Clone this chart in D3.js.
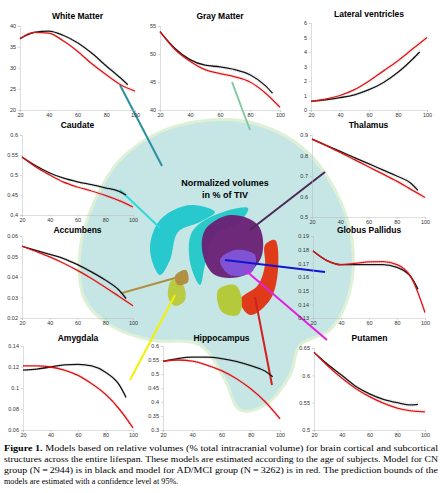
<!DOCTYPE html>
<html><head><meta charset="utf-8">
<script src="https://cdn.jsdelivr.net/npm/d3@7.9.0/dist/d3.min.js"></script>
<style>body{margin:0;background:#fff}svg{display:block}</style>
</head><body>
<svg id="fig" width="446" height="493"></svg>
<script>
// ages sampled for the model curves
const agesRed = [20, 30, 40, 50, 60, 70, 80, 90, 100];
const agesBlack = [20, 30, 40, 50, 60, 70, 80, 90, 95];
const xTicks = [20, 40, 60, 80, 100];

const titles = ['White Matter', 'Gray Matter', 'Lateral ventricles', 'Caudate', 'Thalamus',
  'Accumbens', 'Globus Pallidus', 'Amygdala', 'Hippocampus', 'Putamen'];
const yTicks = [
  [20, 25, 30, 35, 40], [40, 45, 50, 55], [0, 1, 2, 3, 4, 5, 6],
  [0.4, 0.45, 0.5, 0.55, 0.6], [0.5, 0.6, 0.7, 0.8, 0.9],
  [0.02, 0.03, 0.04, 0.05, 0.06], [0.13, 0.14, 0.15, 0.16, 0.17, 0.18, 0.19],
  [0.06, 0.08, 0.1, 0.12, 0.14], [0.3, 0.35, 0.4, 0.45, 0.5, 0.55, 0.6], [0.5, 0.55, 0.6, 0.65]
];
const cnValues = [
  [37, 38.5, 38.8, 37.8, 36, 33.5, 30.5, 27.6, 26],
  [54, 51, 49, 48, 47.7, 47.2, 46.3, 44.4, 43],
  [0.6, 0.7, 0.85, 1.05, 1.4, 1.9, 2.6, 3.5, 4],
  [0.545, 0.523, 0.505, 0.492, 0.483, 0.476, 0.468, 0.459, 0.45],
  [0.88, 0.85, 0.82, 0.79, 0.76, 0.73, 0.70, 0.665, 0.63],
  [0.055, 0.053, 0.051, 0.049, 0.046, 0.0425, 0.0385, 0.0335, 0.0295],
  [0.179, 0.172, 0.169, 0.169, 0.169, 0.169, 0.167, 0.16, 0.151],
  [0.117, 0.118, 0.12, 0.122, 0.1225, 0.121, 0.115, 0.103, 0.091],
  [0.545, 0.555, 0.56, 0.56, 0.555, 0.545, 0.53, 0.51, 0.49],
  [0.642, 0.62, 0.6, 0.58, 0.566, 0.556, 0.55, 0.546, 0.547]
];
const adValues = [
  [37, 38.5, 38.3, 36.5, 34, 31, 28.4, 26, 24.5],
  [54, 50.8, 48.7, 47.2, 46.5, 45.9, 45, 43.1, 40.5],
  [0.6, 0.75, 1.0, 1.4, 2.0, 2.7, 3.4, 4.2, 5],
  [0.545, 0.52, 0.5, 0.482, 0.47, 0.46, 0.449, 0.436, 0.42],
  [0.88, 0.848, 0.815, 0.78, 0.745, 0.71, 0.675, 0.635, 0.595],
  [0.055, 0.0525, 0.0498, 0.0467, 0.0432, 0.0393, 0.035, 0.0305, 0.026],
  [0.179, 0.172, 0.169, 0.170, 0.171, 0.1713, 0.169, 0.16, 0.134],
  [0.121, 0.121, 0.12, 0.117, 0.112, 0.104, 0.094, 0.08, 0.062],
  [0.545, 0.55, 0.546, 0.532, 0.512, 0.484, 0.447, 0.4, 0.34],
  [0.642, 0.617, 0.595, 0.576, 0.561, 0.549, 0.54, 0.535, 0.533]
];

// panel boxes [x0, x1, yTop, yBottom, titleBaseline]
const boxes = [
  [20, 135, 26, 110, 22], [160, 280, 26, 110, 22], [311, 427, 23, 110, 20],
  [22, 133, 135, 215, 131], [312, 425, 135, 217, 131],
  [22, 133, 236, 318, 236], [313, 425, 236, 318, 236],
  [23, 133, 346, 430, 344], [163, 280, 346, 430, 344], [314, 425, 348, 430, 344]
];

const svg = d3.select('#fig');
const font = 'Arial, Liberation Sans, sans-serif';

// ---- brain backdrop ----
const brain = svg.append('g');
const blob = [[85,300],[80,250],[95,200],[120,160],[160,132],[210,120],[260,125],[305,150],[335,190],[352,240],[350,290],[330,330],[300,345],[290,375],[265,405],[240,410],[225,380],[200,345],[150,340],[110,325]];
brain.append('path').attr('d', d3.line().curve(d3.curveCatmullRomClosed)(blob))
  .attr('fill', '#b4dede').attr('stroke', '#d4ecc8').attr('stroke-width', 3).attr('opacity', 0.75);
const shapes = [
  {pts: [[150,250],[160,220],[190,205],[215,212],[200,222],[178,232],[170,260],[160,275]], c: '#1fc6cc'},
  {pts: [[190,262],[192,232],[215,215],[248,208],[240,222],[215,235],[205,265],[200,285]], c: '#22c8c8'},
  {pts: [[205,230],[230,215],[258,225],[262,255],[245,275],[215,275],[203,255]], c: '#6a1f74'},
  {pts: [[220,260],[235,250],[255,255],[252,272],[230,275]], c: '#8055d8'},
  {pts: [[265,245],[275,240],[278,270],[270,300],[250,315],[240,300],[258,285],[265,265]], c: '#e0300f'},
  {pts: [[218,290],[235,285],[242,300],[238,315],[222,312]], c: '#b4c830'},
  {pts: [[172,280],[183,285],[185,300],[175,306],[168,296]], c: '#b8c83a'},
  {pts: [[175,276],[186,270],[188,282],[178,285]], c: '#b08a3a'}
];
shapes.forEach(s => brain.append('path').attr('d', d3.line().curve(d3.curveCatmullRomClosed)(s.pts))
  .attr('fill', s.c).attr('opacity', 0.95));

brain.append('text').attr('x', 225).attr('y', 186).attr('text-anchor', 'middle')
  .attr('font-family', font).attr('font-weight', 'bold').attr('font-size', 9).text('Normalized volumes');
brain.append('text').attr('x', 225).attr('y', 198).attr('text-anchor', 'middle')
  .attr('font-family', font).attr('font-weight', 'bold').attr('font-size', 9).text('in % of TIV');

// connector lines
const links = [
  [[120,85],[162,166],'#2a8fa0'], [[232,82],[250,130],'#80c8a0'], [[120,190],[160,228],'#30d8d8'],
  [[325,172],[250,230],'#4a2a5a'], [[122,293],[175,278],'#b09040'], [[225,260],[325,272],'#1414d0'],
  [[130,380],[175,295],'#f2f200'], [[255,297],[272,385],'#d02020'], [[245,270],[327,340],'#e020e0']
];
links.forEach(l => svg.append('line').attr('x1', l[0][0]).attr('y1', l[0][1])
  .attr('x2', l[1][0]).attr('y2', l[1][1]).attr('stroke', l[2]).attr('stroke-width', 2));

// ---- panels ----
titles.forEach((t, i) => {
  const [x0, x1, yT, yB, ty] = boxes[i];
  const yt = yTicks[i];
  const x = d3.scaleLinear().domain([20, 100]).range([x0, x1]);
  const y = d3.scaleLinear().domain([yt[0], yt[yt.length - 1]]).range([yB, yT]);
  const g = svg.append('g');
  const ax = g.append('g').attr('transform', `translate(0,${yB})`)
    .call(d3.axisBottom(x).tickValues(xTicks).tickSize(2).tickPadding(1));
  const ay = g.append('g').attr('transform', `translate(${x0},0)`)
    .call(d3.axisLeft(y).tickValues(yt).tickSize(2).tickPadding(2).tickFormat(d3.format('~g')));
  [ax, ay].forEach(a => {
    a.selectAll('text').attr('font-family', font).attr('font-size', 5.5).attr('fill', '#333');
    a.selectAll('line,path').attr('stroke', '#bbb').attr('stroke-width', 0.5);
  });
  const line = d3.line().curve(d3.curveMonotoneX).x(d => x(d[0])).y(d => y(d[1]));
  const span = y.domain()[1] - y.domain()[0];
  const cn = agesBlack.map((a, k) => [a, cnValues[i][k]]);
  const ad = agesRed.map((a, k) => [a, adValues[i][k]]);
  [[cn, '#999'], [ad, '#e88']].forEach(([d, c]) => [-1, 1].forEach(s =>
    g.append('path').attr('d', line(d.map((p, k) => [p[0], p[1] + s * span * 0.006 * (1 + k / 3)])))
      .attr('fill', 'none').attr('stroke', c).attr('stroke-width', 0.4).attr('stroke-dasharray', '1,1')));
  g.append('path').attr('d', line(cn)).attr('fill', 'none').attr('stroke', '#111').attr('stroke-width', 1.3);
  g.append('path').attr('d', line(ad)).attr('fill', 'none').attr('stroke', '#e01010').attr('stroke-width', 1.3);
  g.append('text').attr('x', (x0 + x1) / 2).attr('y', ty - 3).attr('text-anchor', 'middle')
    .attr('font-family', font).attr('font-weight', 'bold').attr('font-size', 8.5).text(t);
});

// ---- caption ----
const caption = [
  ['Figure 1.', '  Models based on relative volumes (% total intracranial volume) for brain cortical and subcortical'],
  ['', 'structures across the entire lifespan. These models are estimated according to the age of subjects. Model for CN'],
  ['', 'group (N\u2009=\u20092944) is in black and model for AD/MCI group (N\u2009=\u20093262) is in red. The prediction bounds of the'],
  ['', 'models are estimated with a confidence level at 95%.']
];
caption.forEach((c, k) => {
  const tx = svg.append('text').attr('x', 4).attr('y', 451 + k * 11)
    .attr('font-family', 'Liberation Serif, DejaVu Serif, serif').attr('font-size', 8.2);
  if (k < 3) tx.attr('textLength', 434).attr('lengthAdjust', 'spacingAndGlyphs');
  if (c[0]) tx.append('tspan').attr('font-weight', 'bold').text(c[0]);
  tx.append('tspan').text(c[1]);
});
</script>
</body></html>
